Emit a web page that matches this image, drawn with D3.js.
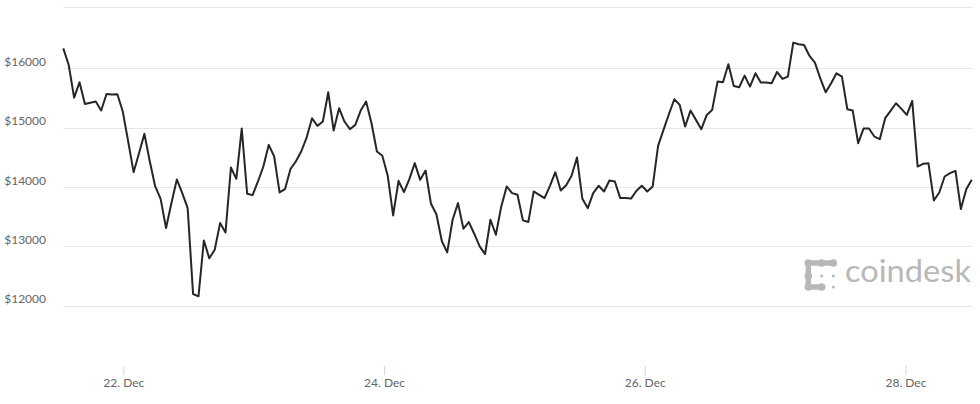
<!DOCTYPE html>
<html>
<head>
<meta charset="utf-8">
<script src="https://cdn.jsdelivr.net/npm/d3@7"></script>
<style>
  html, body { margin: 0; padding: 0; background: #fff; }
  svg { display: block; }
</style>
</head>
<body>
<svg id="chart" width="980" height="404"></svg>
<script>
// ---- data (BTC price, roughly hourly) ----
const startTime = new Date(2017, 11, 21, 12, 57);
const stepMinutes = 59.73;
const prices = [
  16336, 16056, 15506, 15764, 15400, 15420, 15439, 15288, 15568, 15557,
  15563, 15271, 14766, 14250, 14570, 14895, 14430, 14009, 13801, 13308,
  13729, 14127, 13897, 13644, 12197, 12158, 13100, 12798, 12943, 13392,
  13235, 14329, 14138, 14985, 13886, 13863, 14093, 14346, 14710, 14514,
  13908, 13964, 14301, 14430, 14598, 14833, 15159, 15030, 15103, 15596,
  14951, 15327, 15103, 14974, 15047, 15288, 15439, 15074, 14598, 14525,
  14188, 13521, 14104, 13914, 14132, 14402, 14121, 14278, 13717, 13540,
  13090, 12898, 13448, 13729, 13297, 13409, 13213, 13000, 12870, 13448,
  13196, 13673, 14009, 13897, 13869, 13437, 13409, 13925, 13869, 13813,
  14020, 14250, 13942, 14031, 14188, 14497, 13801, 13644, 13897, 14020,
  13925, 14110, 14093, 13813, 13813, 13805, 13936, 14020, 13925, 14009,
  14693, 14962, 15226, 15478, 15383, 15019, 15288, 15131, 14974, 15215,
  15299, 15776, 15764, 16067, 15703, 15680, 15877, 15692, 15916, 15759,
  15759, 15748, 15938, 15821, 15860, 16432, 16404, 16393, 16208, 16095,
  15830, 15596, 15748, 15916, 15860, 15310, 15288, 14738, 14985, 14985,
  14850, 14805, 15159, 15282, 15411, 15316, 15215, 15450, 14345, 14390,
  14402, 13773, 13908, 14177, 14233, 14273, 13628, 13964, 14121
];
const yTicks = [12000, 13000, 14000, 15000, 16000];
const xTickDates = [new Date(2017, 11, 22), new Date(2017, 11, 24), new Date(2017, 11, 26), new Date(2017, 11, 28)];
const brandText = "coindesk";

const data = prices.map((v, i) => ({ t: new Date(startTime.getTime() + i * stepMinutes * 60000), v }));

// ---- layout ----
const svg = d3.select("#chart");
const plotLeft = 63.3, plotRight = 971.7, plotTop = 6.7, plotBottom = 366;

const x = d3.scaleTime()
  .domain([data[0].t, data[data.length - 1].t])
  .range([plotLeft, plotRight]);
const y = d3.scaleLinear()
  .domain([12000, 16000])
  .range([305.7, 68.3]);

// grid lines
const grid = svg.append("g");
grid.selectAll("line.g")
  .data(yTicks)
  .join("line")
  .attr("x1", plotLeft).attr("x2", plotRight)
  .attr("y1", d => Math.round(y(d)) + 0.5).attr("y2", d => Math.round(y(d)) + 0.5)
  .attr("stroke", "#e6e6e6").attr("stroke-width", 1);
grid.append("line")
  .attr("x1", plotLeft).attr("x2", plotRight)
  .attr("y1", Math.round(plotTop) + 0.5).attr("y2", Math.round(plotTop) + 0.5)
  .attr("stroke", "#e6e6e6").attr("stroke-width", 1);

// y labels
svg.append("g").selectAll("text")
  .data(yTicks)
  .join("text")
  .attr("x", 46)
  .attr("y", d => y(d) - 2.3)
  .attr("text-anchor", "end")
  .attr("font-family", "Lato, 'Open Sans', sans-serif")
  .attr("font-size", 12)
  .attr("fill", "#666")
  .text(d => "$" + d);

// x axis
const xAxis = d3.axisBottom(x)
  .tickValues(xTickDates)
  .tickSize(9)
  .tickFormat(d3.timeFormat("%d. %b"));
const gx = svg.append("g")
  .attr("transform", `translate(0,${plotBottom})`)
  .call(xAxis);
gx.select(".domain").remove();
gx.selectAll(".tick line").attr("stroke", "#ccd6eb");
gx.selectAll(".tick text")
  .attr("y", 20.7).attr("dy", 0)
  .attr("font-family", "Lato, 'Open Sans', sans-serif")
  .attr("font-size", 12)
  .attr("fill", "#666");

// watermark logo
const logo = svg.append("g").attr("fill", "#b8b8b8").attr("stroke", "#b8b8b8");
const cols = [808.3, 821.7, 833.3], rows = [263, 276, 287];
logo.append("path")
  .attr("d", `M${cols[2]},${rows[0]} L${cols[0]},${rows[0]} L${cols[0]},${rows[2]} L${cols[1]},${rows[2]}`)
  .attr("fill", "none").attr("stroke-width", 5.5).attr("stroke-linejoin", "round");
[[0,0],[1,0],[2,0],[0,1],[0,2],[1,2]].forEach(([c, r]) => {
  logo.append("circle").attr("cx", cols[c]).attr("cy", rows[r]).attr("r", 3.8).attr("stroke", "none");
});
[[1,1],[2,1],[2,2]].forEach(([c, r]) => {
  logo.append("circle").attr("cx", cols[c]).attr("cy", rows[r]).attr("r", 1.5).attr("stroke", "none");
});
svg.append("text")
  .attr("x", 845).attr("y", 282)
  .attr("font-family", "Lato, 'Open Sans', sans-serif")
  .attr("font-weight", 400)
  .attr("font-size", 30)
  .attr("fill", "#b8b8b8")
  .attr("textLength", 126)
  .attr("lengthAdjust", "spacingAndGlyphs")
  .text(brandText);

// price line
const line = d3.line().x(d => x(d.t)).y(d => y(d.v));
svg.append("path")
  .datum(data)
  .attr("d", line)
  .attr("fill", "none")
  .attr("stroke", "#262626")
  .attr("stroke-width", 2)
  .attr("stroke-linejoin", "round");
</script>
</body>
</html>
